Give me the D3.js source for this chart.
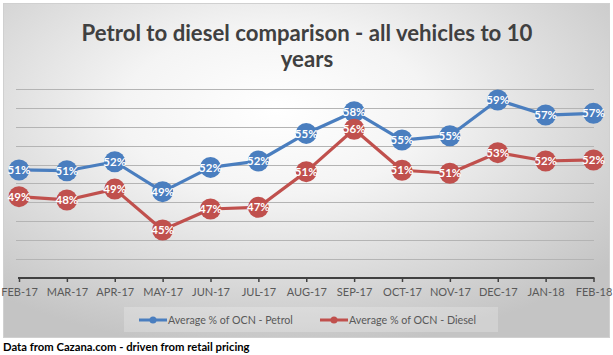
<!DOCTYPE html>
<html>
<head>
<meta charset="utf-8">
<script src="https://cdn.jsdelivr.net/npm/d3@7"></script>
<style>
  html, body { margin: 0; padding: 0; background: #fff; }
  svg { display: block; }
</style>
</head>
<body>
<svg id="chart" width="613" height="355"></svg>
<script>
const categories = ["FEB-17","MAR-17","APR-17","MAY-17","JUN-17","JUL-17","AUG-17","SEP-17","OCT-17","NOV-17","DEC-17","JAN-18","FEB-18"];
const petrol = [0.5143,0.5135,0.5230,0.4913,0.5170,0.5238,0.5530,0.5760,0.5460,0.5506,0.5884,0.5725,0.5743];
const diesel = [0.4860,0.4825,0.4940,0.4507,0.4729,0.4747,0.5125,0.5574,0.5140,0.5108,0.5326,0.5238,0.5249];
const seriesNames = ["Average % of OCN - Petrol","Average % of OCN - Diesel"];
const yTicks = [0.40,0.42,0.44,0.46,0.48,0.50,0.52,0.54,0.56,0.58,0.60];
const titleLines = ["Petrol to diesel comparison - all vehicles to 10","years"];
const footnote = "Data from Cazana.com - driven from retail pricing";

const colors = ["#4a7ebf", "#c0504d"];
const font = "Lato, 'Open Sans', 'Liberation Sans', sans-serif";

// shrink/grow a text element's font size so that it spans the target width
function fitWidth(sel, target, base) {
  sel.style("font-size", base + "px");
  const w = sel.node().getComputedTextLength();
  if (w > 0) sel.style("font-size", (base * target / w).toFixed(2) + "px");
  return sel;
}

const svg = d3.select("#chart");
const defs = svg.append("defs");
const grad = defs.append("radialGradient").attr("id","bg")
  .attr("cx","0.45").attr("cy","0.32").attr("r","0.72").attr("fx","0.45").attr("fy","0.32");
grad.append("stop").attr("offset","0").attr("stop-color","#ffffff");
grad.append("stop").attr("offset","0.35").attr("stop-color","#f4f4f4");
grad.append("stop").attr("offset","1").attr("stop-color","#c4c4c4");

svg.append("rect").attr("width",613).attr("height",355).attr("fill","#fff");
svg.append("rect").attr("x",3.5).attr("y",3.5).attr("width",606).attr("height",334)
  .attr("fill","url(#bg)").attr("stroke","#d0d0d0").attr("stroke-width",1);

const x = d3.scalePoint().domain(categories).range([19, 593.5]);
const y = d3.scaleLinear().domain([0.40, 0.60]).range([277.8, 89.1]);

// gridlines
svg.append("g").selectAll("line").data(yTicks.slice(1)).join("line")
  .attr("x1", 16).attr("x2", 594)
  .attr("y1", d => Math.round(y(d)) + 0.5).attr("y2", d => Math.round(y(d)) + 0.5)
  .attr("stroke", "#b4b4b4").attr("stroke-width", 1);

// x axis
const xAxis = svg.append("g").attr("transform", `translate(0,${Math.round(y(0.40))})`)
  .call(d3.axisBottom(x).tickSize(4).tickSizeOuter(0).tickPadding(6));
xAxis.select(".domain").attr("stroke","#404040").attr("stroke-width",2)
  .attr("d", `M${x(categories[0])-1},0H${x(categories[categories.length-1])+1}`);
xAxis.selectAll(".tick line").attr("stroke","#404040").attr("stroke-width",1.5);
xAxis.selectAll(".tick text").attr("fill","#595959").style("font-family",font).style("font-size","11px");

const line = d3.line().x((d,i) => x(categories[i])).y(d => y(d));
[petrol, diesel].forEach((data, s) => {
  const g = svg.append("g");
  g.append("path").datum(data).attr("d", line).attr("fill","none")
    .attr("stroke", colors[s]).attr("stroke-width", 3.2).attr("stroke-linejoin","round");
  g.selectAll("circle").data(data).join("circle")
    .attr("cx", (d,i) => x(categories[i])).attr("cy", d => y(d)).attr("r", 10.5)
    .attr("fill", colors[s]);
  g.selectAll("text").data(data).join("text")
    .attr("x", (d,i) => x(categories[i])).attr("y", d => y(d)).attr("dy","0.36em")
    .attr("text-anchor","middle").attr("fill","#fff")
    .style("font-family",font).style("font-size","11.5px").style("font-weight","bold")
    .text(d => d3.format(".0%")(d));
});

// title
const titleBase = [41, 67];
let titleSize = 20;
titleLines.forEach((t, i) => {
  const tx = svg.append("text").attr("text-anchor","middle").attr("fill","#404040")
    .attr("x", 307).attr("y", titleBase[i])
    .style("font-family",font).style("font-weight","bold").text(t);
  if (i === 0) { fitWidth(tx, 451, 20); titleSize = parseFloat(tx.style("font-size")); }
  else tx.style("font-size", titleSize + "px");
});

// legend
const lg = svg.append("g");
lg.append("rect").attr("x",124).attr("y",307).attr("width",374).attr("height",25)
  .attr("fill","#ffffff").attr("fill-opacity",0.22);
const legX = [139, 320];
const legW = [125, 127];
seriesNames.forEach((n, i) => {
  const gx = legX[i];
  lg.append("line").attr("x1",gx).attr("x2",gx+28).attr("y1",320).attr("y2",320)
    .attr("stroke",colors[i]).attr("stroke-width",3);
  lg.append("circle").attr("cx",gx+14).attr("cy",320).attr("r",3.5).attr("fill",colors[i]);
  const t = lg.append("text").attr("x",gx+29).attr("y",320.5).attr("dy","0.35em")
    .attr("fill","#595959").style("font-family",font).text(n);
  fitWidth(t, legW[i], 11);
});

// footnote
const fn = svg.append("text").attr("x",3).attr("y",351).attr("fill","#000")
  .style("font-family",font).style("font-weight","bold").text(footnote);
fitWidth(fn, 247, 12);
</script>
</body>
</html>
